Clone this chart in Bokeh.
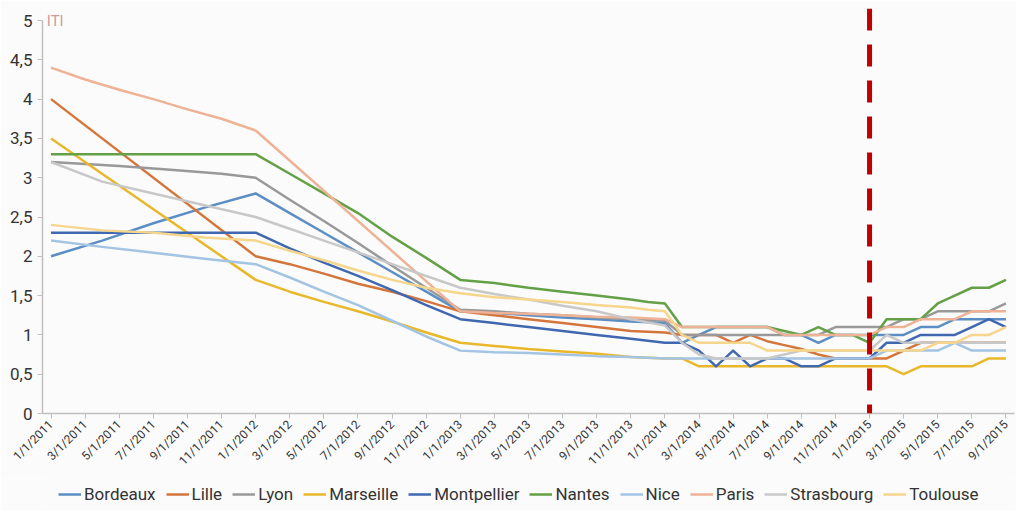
from bokeh.plotting import figure
from bokeh.layouts import column
from bokeh.models import FixedTicker, Span, Label, Legend, LegendItem, CustomJSTickFormatter
from bokeh.embed import file_html
from bokeh.resources import INLINE

N = None

months = [
    "1/1/2011", "2/1/2011", "3/1/2011", "4/1/2011", "5/1/2011", "6/1/2011",
    "7/1/2011", "8/1/2011", "9/1/2011", "10/1/2011", "11/1/2011", "12/1/2011",
    "1/1/2012", "2/1/2012", "3/1/2012", "4/1/2012", "5/1/2012", "6/1/2012",
    "7/1/2012", "8/1/2012", "9/1/2012", "10/1/2012", "11/1/2012", "12/1/2012",
    "1/1/2013", "2/1/2013", "3/1/2013", "4/1/2013", "5/1/2013", "6/1/2013",
    "7/1/2013", "8/1/2013", "9/1/2013", "10/1/2013", "11/1/2013", "12/1/2013",
    "1/1/2014", "2/1/2014", "3/1/2014", "4/1/2014", "5/1/2014", "6/1/2014",
    "7/1/2014", "8/1/2014", "9/1/2014", "10/1/2014", "11/1/2014", "12/1/2014",
    "1/1/2015", "2/1/2015", "3/1/2015", "4/1/2015", "5/1/2015", "6/1/2015",
    "7/1/2015", "8/1/2015", "9/1/2015",
]

# each row: 2011 (Jan..Dec) + 2012 + 2013 + 2014 + 2015 (Jan..Sep); None = no point
bordeaux    = [2.0, N, N, 2.2, N, N, 2.42, N, N, 2.62, N, N] + [2.8, N, 2.55, N, 2.3, N, 2.05, N, 1.8, N, 1.55, N] + [1.3, N, 1.28, N, 1.25, N, 1.22, N, 1.2, N, 1.17, N] + [1.15, 0.9, 1.0, 1.1, 1.1, 1.1, 1.1, 1.0, 1.0, 0.9, 1.0, 1.0] + [1.0, 1.0, 1.0, 1.1, 1.1, 1.2, 1.2, 1.2, 1.2]
lille       = [4.0, N, N, N, N, N, N, N, N, N, N, N] + [2.0, N, 1.9, N, 1.78, N, 1.65, N, 1.55, N, 1.43, N] + [1.3, N, 1.25, N, 1.2, N, 1.15, N, 1.1, N, 1.05, N] + [1.03, 1.0, 1.0, 1.0, 0.9, 1.0, 0.92, 0.87, 0.82, 0.75, 0.7, 0.7] + [0.7, 0.7, 0.8, 0.9, 0.9, 0.9, 0.9, 0.9, 0.9]
lyon        = [3.2, N, N, N, 3.15, N, N, 3.1, N, N, 3.05, N] + [3.0, N, 2.72, N, 2.45, N, 2.17, N, 1.88, N, 1.6, N] + [1.32, N, 1.3, N, 1.27, N, 1.25, N, 1.22, N, 1.2, N] + [1.18, 1.0, 1.0, 1.0, 1.0, 1.0, 1.0, 1.0, 1.0, 1.0, 1.1, 1.1] + [1.1, 1.1, 1.2, 1.2, 1.3, 1.3, 1.3, 1.3, 1.4]
marseille   = [3.5, N, N, N, N, N, N, N, N, N, N, N] + [1.7, N, 1.55, N, 1.42, N, 1.3, N, 1.17, N, 1.03, N] + [0.9, N, 0.86, N, 0.82, N, 0.79, N, 0.76, N, 0.72, N] + [0.7, 0.7, 0.6, 0.6, 0.6, 0.6, 0.6, 0.6, 0.6, 0.6, 0.6, 0.6] + [0.6, 0.6, 0.5, 0.6, 0.6, 0.6, 0.6, 0.7, 0.7]
montpellier = [2.3, N, N, N, N, N, N, N, N, N, N, N] + [2.3, N, 2.1, N, 1.92, N, 1.75, N, 1.57, N, 1.38, N] + [1.2, N, 1.15, N, 1.1, N, 1.05, N, 1.0, N, 0.95, N] + [0.9, 0.9, 0.8, 0.6, 0.8, 0.6, 0.7, 0.7, 0.6, 0.6, 0.7, 0.7] + [0.7, 0.9, 0.9, 1.0, 1.0, 1.0, 1.1, 1.2, 1.1]
nantes      = [3.3, N, N, N, N, N, N, N, N, N, N, N] + [3.3, N, 3.05, N, 2.8, N, 2.55, N, 2.25, N, 1.98, N] + [1.7, N, 1.66, N, 1.6, N, 1.55, N, 1.5, N, 1.45, 1.42] + [1.4, 1.1, 1.1, 1.1, 1.1, 1.1, 1.1, 1.05, 1.0, 1.1, 1.0, 1.0] + [0.9, 1.2, 1.2, 1.2, 1.4, 1.5, 1.6, 1.6, 1.7]
nice        = [2.2, N, N, 2.12, N, 2.07, N, N, N, 1.97, N, N] + [1.9, N, 1.73, N, 1.55, N, 1.38, N, 1.18, N, 0.98, N] + [0.8, N, 0.78, N, 0.77, N, 0.75, N, 0.73, N, 0.72, N] + [0.7, 0.7, 0.7, 0.7, 0.7, 0.7, 0.7, 0.7, 0.7, 0.7, 0.7, 0.7] + [0.7, 0.8, 0.8, 0.8, 0.8, 0.9, 0.8, 0.8, 0.8]
paris       = [4.4, N, 4.25, N, 4.12, N, 4.0, N, 3.87, N, 3.75, N] + [3.6, N, N, N, N, N, N, N, N, N, N, N] + [1.3, N, 1.28, N, 1.27, N, 1.25, N, 1.23, N, 1.22, N] + [1.2, 1.1, 1.1, 1.1, 1.1, 1.1, 1.1, 1.0, 1.0, 1.0, 1.0, 1.0] + [1.0, 1.1, 1.1, 1.2, 1.2, 1.2, 1.3, 1.3, 1.3]
strasbourg  = [3.2, N, N, 2.95, N, N, 2.8, N, N, 2.65, N, N] + [2.5, N, 2.35, N, 2.2, N, 2.05, N, 1.9, N, 1.75, N] + [1.6, N, 1.52, N, 1.45, N, 1.37, N, 1.3, N, 1.2, N] + [1.12, 0.9, 0.75, 0.7, 0.7, 0.7, 0.7, 0.75, 0.8, 0.8, 0.8, 0.8] + [0.8, 1.0, 0.9, 0.9, 0.9, 0.9, 0.9, 0.9, 0.9]
toulouse    = [2.4, N, N, 2.33, N, N, 2.3, N, N, 2.24, N, N] + [2.2, N, 2.07, N, 1.95, N, 1.82, N, 1.7, N, 1.6, N] + [1.53, N, 1.48, N, 1.45, N, 1.42, N, 1.38, N, 1.35, 1.32] + [1.3, 1.0, 0.9, 0.9, 0.9, 0.9, 0.8, 0.8, 0.8, 0.8, 0.8, 0.8] + [0.8, 0.8, 0.8, 0.8, 0.9, 0.9, 1.0, 1.0, 1.1]

series_names = ["Bordeaux", "Lille", "Lyon", "Marseille", "Montpellier",
                "Nantes", "Nice", "Paris", "Strasbourg", "Toulouse"]
series_values = [bordeaux, lille, lyon, marseille, montpellier,
                 nantes, nice, paris, strasbourg, toulouse]
series_colors = ["#5b8ec4", "#d4763c", "#999999", "#e8b82a", "#3f68b0",
                 "#63a046", "#a3c4e3", "#eeb296", "#c8c8c8", "#f6d58c"]

y_ticks = [0, 0.5, 1, 1.5, 2, 2.5, 3, 3.5, 4, 4.5, 5]
marker_month = "1/1/2015"

FONT = "Roboto"
BG = "#fbfbfb"

p = figure(width=1016, height=478, x_range=(-0.5, len(months) - 0.5), y_range=(0, 5.153),
           output_backend="svg", toolbar_location=None,
           min_border_left=42, min_border_right=2, min_border_top=8, min_border_bottom=65,
           background_fill_color=BG, border_fill_color=BG,
           outline_line_color=None)
p.xgrid.visible = False
p.ygrid.visible = False

line_renderers = []
for name, vals, col in zip(series_names, series_values, series_colors):
    xs = [i for i, v in enumerate(vals) if v is not None]
    ys = [v for v in vals if v is not None]
    line_renderers.append(p.line(xs, ys, line_color=col, line_width=2.5, line_join="round"))

# axes
p.yaxis.ticker = FixedTicker(ticks=y_ticks)
p.yaxis.bounds = (0, 5)
p.yaxis.formatter = CustomJSTickFormatter(code="return tick.toString().replace('.', ',');")
p.yaxis.axis_line_color = "#bfbfbf"
p.yaxis.axis_line_width = 1.5
p.yaxis.major_tick_line_color = "#bfbfbf"
p.yaxis.major_tick_out = 5
p.yaxis.major_tick_in = 0
p.yaxis.minor_tick_line_color = None
p.yaxis.major_label_text_font = FONT
p.yaxis.major_label_text_font_size = "17px"
p.yaxis.major_label_text_color = "#333333"
p.yaxis.major_label_standoff = 5

p.xaxis.ticker = FixedTicker(ticks=list(range(0, len(months), 2)))
p.xaxis.formatter = CustomJSTickFormatter(args=dict(labels=months),
                                          code="return labels[Math.round(tick)] || '';")
p.xaxis.major_label_orientation = 0.785398
p.xaxis.axis_line_color = "#bfbfbf"
p.xaxis.axis_line_width = 1.5
p.xaxis.major_tick_line_color = "#bfbfbf"
p.xaxis.major_tick_out = 5
p.xaxis.major_tick_in = 0
p.xaxis.minor_tick_line_color = None
p.xaxis.major_label_text_font = FONT
p.xaxis.major_label_text_font_size = "12px"
p.xaxis.major_label_text_color = "#333333"
p.xaxis.major_label_standoff = 4

# marker line at 1/1/2015
span = Span(location=months.index(marker_month), dimension="height", line_color="#c00000",
            line_width=5, line_dash="22 14")
p.add_layout(span)

p.add_layout(Label(x=-0.25, y=5, text="ITI", text_font=FONT, text_font_size="15px",
                   text_color="#d09a9a", text_baseline="middle", text_align="left"))

# legend strip below the chart (legend glyphs mirror the chart's line styles)
leg = figure(width=1016, height=32, x_range=(0, 1), y_range=(0, 1),
             output_backend="svg", toolbar_location=None,
             min_border_left=0, min_border_right=0, min_border_top=0, min_border_bottom=0,
             background_fill_color=BG, border_fill_color=BG, outline_line_color=None)
leg.axis.visible = False
leg.xgrid.visible = False
leg.ygrid.visible = False
items = []
for name, col in zip(series_names, series_colors):
    # kept outside the strip's visible range: only the legend swatch is seen
    r = leg.line([5, 6], [5, 6], line_color=col, line_width=2.5)
    items.append(LegendItem(label=name, renderers=[r]))

legend = Legend(items=items, orientation="horizontal", location=(16, 6))
legend.label_text_font = FONT
legend.label_text_font_size = "17px"
legend.label_text_color = "#333333"
legend.glyph_width = 23
legend.glyph_height = 16
legend.label_standoff = 3
legend.spacing = 10
legend.padding = 0
legend.margin = 0
legend.border_line_color = None
legend.background_fill_alpha = 0
leg.add_layout(legend, "center")

layout = column(p, leg, spacing=0)

open("out.html", "w").write(file_html(layout, INLINE))
